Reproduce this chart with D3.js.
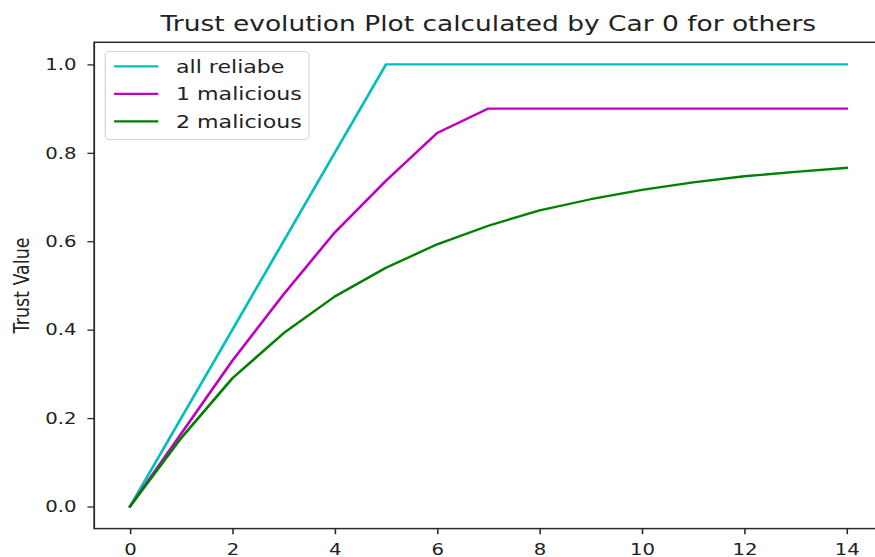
<!DOCTYPE html>
<html>
<head>
<meta charset="utf-8">
<script src="https://cdn.jsdelivr.net/npm/d3@7"></script>
<style>
    html, body { margin: 0; padding: 0; background: #fff; }
    svg { display: block; }
</style>
</head>
<body>
<script>
// values
const STEPS = [0, 1, 2, 3, 4, 5, 6, 7, 8, 9, 10, 11, 12, 13, 14]
const ALL_RELIABLE = [0, 0.2, 0.4, 0.6, 0.8, 1, 1, 1, 1, 1, 1, 1, 1, 1, 1]
const ONE_MALICIOUS = [0, 0.165, 0.33, 0.48, 0.62, 0.737, 0.845, 0.9, 0.9, 0.9, 0.9, 0.9, 0.9, 0.9, 0.9]
const TWO_MALICIOUS = [0, 0.155, 0.29, 0.392, 0.475, 0.54, 0.593, 0.635, 0.67, 0.695, 0.716, 0.733, 0.747, 0.757, 0.766]
const SERIES_NAMES = ['all reliabe', '1 malicious', '2 malicious']
const SERIES_COLORS = ['#00bfbf', '#bf00bf', '#008000']
const X_TICKS = [0, 2, 4, 6, 8, 10, 12, 14]
const Y_TICKS = [0, 0.2, 0.4, 0.6, 0.8, 1.0]
const TITLE = 'Trust evolution Plot calculated by Car 0 for others'
const Y_LABEL = 'Trust Value'

;(() => {
    const width = 875
    const height = 557
    // the source picture is stretched sideways, so draw in a narrower box and stretch it
    const stretch = 1.2084
    const innerWidth = width / stretch

    const fontSize = 18.3
    const tickFontSize = 16.3
    const titleSize = 21.9
    const tickLen = 5.6
    const margin = {left: 77.95, top: 42.3, right: 730.3, bottom: 528.6}

    const x = d3.scaleLinear().domain([-0.7, 14.7]).range([margin.left, margin.right])
    const y = d3.scaleLinear().domain([-0.05, 1.05]).range([margin.bottom, margin.top])

    const series = [ALL_RELIABLE, ONE_MALICIOUS, TWO_MALICIOUS].map((values, i) => ({
        name: SERIES_NAMES[i],
        color: SERIES_COLORS[i],
        points: STEPS.map((s, j) => [s, values[j]]),
    }))

    const svg = d3.select('body').append('svg')
        .attr('width', width)
        .attr('height', height)
        .attr('viewBox', [0, 0, innerWidth, height])
        .attr('preserveAspectRatio', 'none')
        .style('font-family', '"DejaVu Sans", sans-serif')

    svg.append('rect')
        .attr('width', innerWidth)
        .attr('height', height)
        .attr('fill', '#fff')

    const line = d3.line()
        .x(d => x(d[0]))
        .y(d => y(d[1]))

    svg.append('g')
        .attr('fill', 'none')
        .attr('stroke-width', 2.3)
        .attr('stroke-linejoin', 'round')
        .attr('stroke-linecap', 'square')
        .selectAll('path')
        .data(series)
        .join('path')
        .attr('stroke', d => d.color)
        .attr('d', d => line(d.points))

    // spines
    svg.append('rect')
        .attr('x', margin.left)
        .attr('y', margin.top)
        .attr('width', margin.right - margin.left)
        .attr('height', margin.bottom - margin.top)
        .attr('fill', 'none')
        .attr('stroke', '#2a2a2a')
        .attr('stroke-width', 1.5)

    const xAxis = svg.append('g')
        .attr('transform', `translate(0,${margin.bottom})`)
        .call(d3.axisBottom(x).tickValues(X_TICKS).tickFormat(d3.format('d')).tickSize(tickLen).tickPadding(9))
    const yAxis = svg.append('g')
        .attr('transform', `translate(${margin.left},0)`)
        .call(d3.axisLeft(y).tickValues(Y_TICKS).tickFormat(d3.format('.1f')).tickSize(tickLen).tickPadding(9))

    for (const axis of [xAxis, yAxis]) {
        axis.select('.domain').remove()
        axis.selectAll('line').attr('stroke', '#2a2a2a').attr('stroke-width', 1.3)
        axis.selectAll('text')
            .attr('fill', '#222')
            .style('font-size', `${tickFontSize}px`)
            .style('font-family', '"DejaVu Sans", sans-serif')
    }

    svg.append('text')
        .attr('x', (margin.left + margin.right) / 2)
        .attr('y', 31.5)
        .attr('text-anchor', 'middle')
        .attr('fill', '#222')
        .style('font-size', `${titleSize}px`)
        .text(TITLE)

    svg.append('text')
        .attr('transform', `translate(${23 / stretch + 5},${(margin.top + margin.bottom) / 2}) rotate(-90)`)
        .attr('text-anchor', 'middle')
        .attr('fill', '#222')
        .style('font-size', '17.5px')
        .text(Y_LABEL)

    // legend, upper left like matplotlib's 'best'
    const pad = fontSize * 0.5
    const legend = svg.append('g')
        .attr('transform', `translate(${margin.left + pad},${margin.top + pad})`)

    legend.append('rect')
        .attr('width', 168.6)
        .attr('height', 88)
        .attr('rx', 3.7)
        .attr('fill', 'rgba(255,255,255,0.8)')
        .attr('stroke', '#d6d6d6')
        .attr('stroke-width', 1)

    const rows = legend.selectAll('g.row')
        .data(series)
        .join('g')
        .classed('row', true)
        .attr('transform', (d, i) => `translate(0,${15 + i * 27.5})`)

    rows.append('line')
        .attr('x1', 7.3)
        .attr('x2', 7.3 + 2 * fontSize)
        .attr('stroke', d => d.color)
        .attr('stroke-width', 2.3)

    rows.append('text')
        .attr('x', 7.3 + 2 * fontSize + 0.8 * fontSize)
        .attr('dy', '0.35em')
        .attr('fill', '#222')
        .style('font-size', `${fontSize}px`)
        .text(d => d.name)
})()
</script>
</body>
</html>
